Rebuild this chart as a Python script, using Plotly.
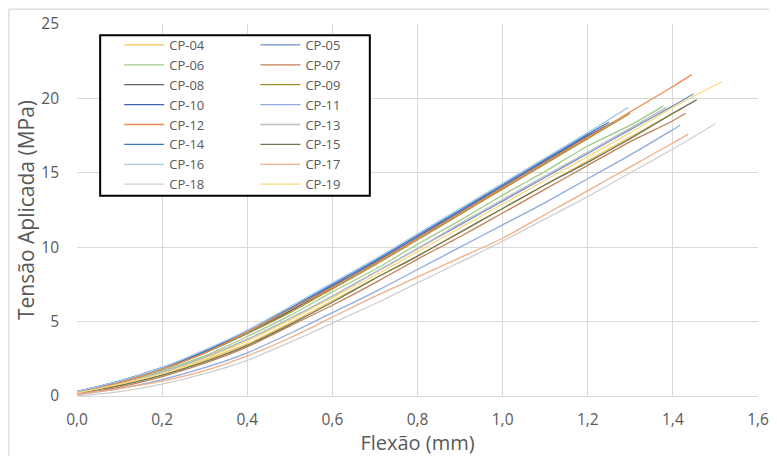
import plotly.graph_objects as go

# Flexão (mm) sampled every 0.1 mm; each series ends at its own failure point
flexao = [0.0, 0.1, 0.2, 0.3, 0.4, 0.5, 0.6, 0.7, 0.8, 0.9, 1.0, 1.1, 1.2, 1.3, 1.4, 1.5]

nomes = ["CP-04", "CP-05", "CP-06", "CP-07", "CP-08", "CP-09", "CP-10", "CP-11",
         "CP-12", "CP-13", "CP-14", "CP-15", "CP-16", "CP-17", "CP-18", "CP-19"]

# last flexão value of each specimen (where the curve stops)
fim_flexao = [1.42, 1.448, 1.378, 1.43, 1.24, 1.30, 1.26, 1.417,
              1.444, 1.385, 1.25, 1.456, 1.295, 1.436, 1.50, 1.515]

# Tensão aplicada (MPa) at flexao[0..n-1] and, last, at the end point
cp04 = [0.2, 0.7, 1.4, 2.4, 3.5, 4.9, 6.4, 7.9, 9.4, 11.0, 12.6, 14.2, 15.8, 17.4, 19.3]
cp05 = [0.2, 0.8, 1.6, 2.6, 3.8, 5.2, 6.7, 8.3, 9.9, 11.5, 13.1, 14.7, 16.3, 17.9, 19.5, 20.3]
cp06 = [0.2, 0.8, 1.7, 2.7, 4.0, 5.4, 7.0, 8.5, 10.2, 11.8, 13.5, 15.1, 16.8, 18.2, 19.5]
cp07 = [0.1, 0.6, 1.3, 2.2, 3.3, 4.7, 6.1, 7.6, 9.2, 10.7, 12.3, 13.9, 15.5, 17.1, 18.5, 19.0]
cp08 = [0.2, 0.9, 1.8, 2.9, 4.2, 5.7, 7.3, 8.9, 10.6, 12.3, 14.0, 15.7, 17.4, 18.1]
cp09 = [0.2, 0.9, 1.8, 2.9, 4.2, 5.6, 7.2, 8.8, 10.5, 12.2, 13.9, 15.6, 17.3, 19.0]
cp10 = [0.3, 1.0, 1.9, 3.0, 4.3, 5.8, 7.4, 9.0, 10.7, 12.4, 14.1, 15.8, 17.5, 18.4]
cp11 = [0.1, 0.5, 1.1, 1.9, 2.9, 4.2, 5.6, 7.0, 8.5, 10.0, 11.5, 13.0, 14.6, 16.2, 17.9, 18.2]
cp12 = [0.2, 0.9, 1.8, 2.9, 4.3, 5.8, 7.3, 8.9, 10.6, 12.3, 14.0, 15.7, 17.4, 19.1, 20.8, 21.6]
cp13 = [0.2, 0.8, 1.6, 2.6, 3.8, 5.2, 6.7, 8.3, 9.9, 11.6, 13.2, 14.8, 16.4, 18.0, 19.4]
cp14 = [0.3, 1.0, 1.9, 3.0, 4.4, 5.9, 7.5, 9.1, 10.8, 12.5, 14.2, 15.9, 17.6, 18.4]
cp15 = [0.2, 0.7, 1.4, 2.3, 3.4, 4.8, 6.3, 7.9, 9.4, 11.0, 12.6, 14.2, 15.7, 17.3, 19.0, 19.9]
cp16 = [0.3, 1.0, 1.9, 3.1, 4.4, 6.0, 7.6, 9.2, 10.9, 12.6, 14.3, 16.0, 17.7, 19.4]
cp17 = [0.1, 0.5, 1.0, 1.7, 2.7, 3.9, 5.3, 6.7, 8.0, 9.3, 10.6, 12.2, 13.8, 15.4, 17.0, 17.6]
cp18 = [0.0, 0.3, 0.8, 1.5, 2.4, 3.6, 4.9, 6.2, 7.6, 9.0, 10.4, 11.9, 13.4, 15.0, 16.6, 18.3]
cp19 = [0.2, 0.8, 1.5, 2.5, 3.7, 5.1, 6.6, 8.1, 9.7, 11.3, 12.9, 14.5, 16.1, 17.7, 19.4, 20.9, 21.1]

series = [cp04, cp05, cp06, cp07, cp08, cp09, cp10, cp11,
          cp12, cp13, cp14, cp15, cp16, cp17, cp18, cp19]

cores = ["#F2C44F", "#6F8FCF", "#9FCB86", "#C27F55", "#5B6068", "#A88F2E", "#3F62A8", "#8FAADC",
         "#EE8A4E", "#BDBDBD", "#3B78BE", "#6E7558", "#A9C8E8", "#F2AE84", "#CFCFCF", "#FAD878"]

fig = go.Figure()
for i, (nome, ys) in enumerate(zip(nomes, series)):
    xs = flexao[:len(ys) - 1] + [fim_flexao[i]]
    fig.add_trace(go.Scatter(
        x=xs, y=ys, name=nome, mode="lines",
        line=dict(color=cores[i], width=1.3, shape="spline", smoothing=0.6),
        legend="legend" if i % 2 == 0 else "legend2",
    ))

texto = "#595959"
grade = "#D9D9D9"
fonte = "Open Sans"

# the page body adds 8px on the left/top, so the figure is 8px smaller
fig.update_layout(
    width=769, height=448,
    margin=dict(l=69, r=19, t=16, b=60),
    plot_bgcolor="white", paper_bgcolor="white",
    separators=",.",
    font=dict(family=fonte, size=13, color=texto),
    showlegend=True,
    xaxis=dict(
        range=[0, 1.6], dtick=0.2, tickformat=".1f",
        showgrid=True, gridcolor=grade, gridwidth=1,
        zeroline=False, showline=True, linecolor=grade,
        ticks="", ticklabelstandoff=9, automargin=False,
        tickfont=dict(size=15.5, color=texto),
        title=dict(text="Flexão (mm)", font=dict(size=20, color=texto), standoff=7),
    ),
    yaxis=dict(
        range=[0, 25], dtick=5,
        showgrid=True, gridcolor=grade, gridwidth=1,
        zeroline=False, showline=False,
        ticks="", ticklabelstandoff=17, automargin=False,
        tickfont=dict(size=15.5, color=texto),
        title=dict(text="Tensão Aplicada (MPa)", font=dict(size=21, color=texto), standoff=0),
    ),
    legend=dict(
        x=0.062, y=0.984, xanchor="left", yanchor="top",
        bgcolor="rgba(0,0,0,0)", borderwidth=0, itemwidth=40,
        font=dict(family=fonte, size=13, color=texto),
        tracegroupgap=0,
    ),
    legend2=dict(
        x=0.262, y=0.984, xanchor="left", yanchor="top",
        bgcolor="rgba(0,0,0,0)", borderwidth=0, itemwidth=40,
        font=dict(family=fonte, size=13, color=texto),
        tracegroupgap=0,
    ),
    shapes=[
        # legend frame
        dict(type="rect", xref="paper", yref="paper",
             x0=0.034, x1=0.430, y0=0.538, y1=0.970,
             line=dict(color="black", width=2), fillcolor="white", layer="above"),
        # chart area border
        dict(type="rect", xref="paper", yref="paper",
             x0=-0.1, x1=1.05, y0=-0.25, y1=1.040,
             line=dict(color="#D0D0D0", width=1), layer="below"),
    ],
)

fig.write_html("out.html")
